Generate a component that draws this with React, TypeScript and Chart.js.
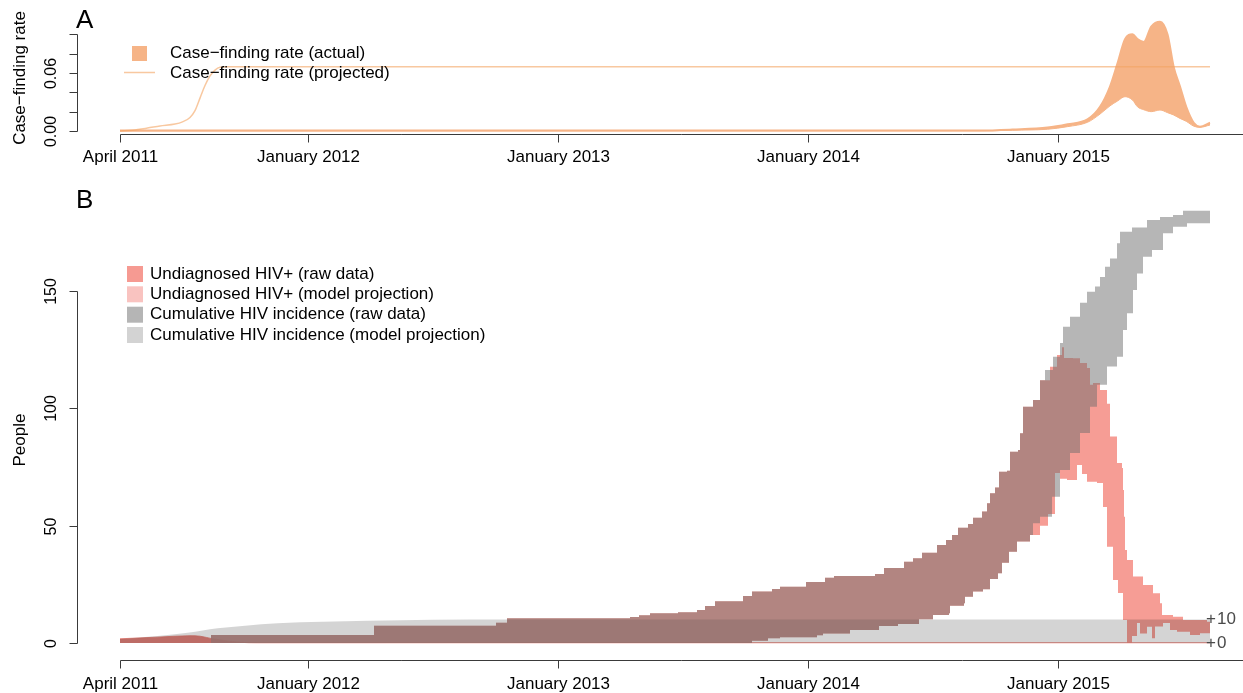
import { useEffect, useRef } from "react";
import { Chart, registerables } from "chart.js";

Chart.register(...registerables);

const WIDTH = 1243;
const HEIGHT = 693;
const FONT_FAMILY = '"Liberation Sans", Arial, Helvetica, sans-serif';

// Shared time axis (decimal years)
const timeStart = 2011.25;
const timeEnd = 2015.742;
const timeTicks = [2011.25, 2012, 2013, 2014, 2015];
const timeTickLabels = ["April 2011", "January 2012", "January 2013", "January 2014", "January 2015"];

// Panel A: case-finding rate
const rateTicks = [0, 0.02, 0.04, 0.06, 0.08, 0.1];
const rateTickLabels = ["0.00", "", "", "0.06", "", ""];

const rateProjected: [number, number][] = [
  [2011.25, 0], [2011.3, 0.0008], [2011.36, 0.003], [2011.41, 0.0052], [2011.47, 0.0072],
  [2011.5, 0.0095], [2011.53, 0.014], [2011.55, 0.021], [2011.57, 0.034], [2011.59, 0.047],
  [2011.61, 0.057], [2011.63, 0.063], [2011.65, 0.066], [2011.68, 0.0665], [2015.61, 0.0665],
];

const rateActualTimes = [
  2011.25, 2014.69, 2014.82, 2014.96, 2015.04, 2015.12, 2015.17, 2015.21, 2015.24, 2015.27, 2015.3,
  2015.32, 2015.345, 2015.375, 2015.41, 2015.44, 2015.465, 2015.49, 2015.515, 2015.545, 2015.57, 2015.61,
];
const rateActualHigh = [
  0.0004, 0.0005, 0.0015, 0.0035, 0.007, 0.012, 0.025, 0.046, 0.07, 0.095, 0.1,
  0.095, 0.092, 0.108, 0.113, 0.1, 0.066, 0.046, 0.025, 0.0085, 0.0045, 0.0086,
];
const rateActualLow = [
  0, 0.0001, 0.0008, 0.0018, 0.0045, 0.009, 0.0175, 0.026, 0.031, 0.0355, 0.032,
  0.025, 0.022, 0.02, 0.0217, 0.019, 0.0165, 0.013, 0.01, 0.005, 0.0038, 0.0062,
];

// Panel B: people
const peopleTicks = [0, 50, 100, 150];
const peopleRightTicks = [0, 10];

const incidenceProjection: [number, number][] = [
  [2011.25, 1.7], [2011.4, 3.0], [2011.52, 4.4], [2011.64, 6.3], [2011.75, 7.4], [2011.88, 8.4],
  [2011.97, 8.8], [2012.24, 9.5], [2012.5, 9.9], [2012.8, 10], [2015.61, 10],
];

const undiagnosedProjection: [number, number][] = [
  [2011.25, 1.8], [2011.4, 2.5], [2011.53, 3.1], [2011.57, 2.9], [2011.62, 1.8], [2011.67, 1.0],
  [2011.73, 0.3], [2011.8, 0.08], [2015.61, 0.08],
];

// Raw-data bands: identical for both measures until diagnoses begin
const rawUpperShared: [number, number][] = [
  [2011.614, 3.4], [2012.266, 7.4], [2012.754, 8.6], [2012.798, 10.6], [2013.29, 11.1], [2013.326, 11.8],
  [2013.37, 12.7], [2013.482, 13.1], [2013.558, 14.1], [2013.59, 15.8], [2013.63, 17.8], [2013.742, 20.0],
  [2013.778, 21.9], [2013.858, 23.0], [2013.89, 24.0], [2013.994, 26.0], [2014.07, 27.8], [2014.106, 28.5],
  [2014.27, 29.4], [2014.306, 32.0], [2014.386, 34.6], [2014.422, 36.1], [2014.458, 38.5], [2014.518, 41.8],
  [2014.554, 43.9], [2014.578, 46.0], [2014.602, 49.1], [2014.642, 50.7], [2014.662, 53.4], [2014.698, 56.0],
  [2014.718, 59.5], [2014.73, 63.8], [2014.75, 66.3], [2014.766, 73.0], [2014.798, 73.4], [2014.81, 81.5],
  [2014.842, 82.2], [2014.85, 89.4], [2014.862, 100.7], [2014.902, 103.5],
];
const rawLowerShared: [number, number][] = [
  [2011.614, 0], [2013.778, 1.0], [2013.842, 2.0], [2013.89, 2.4], [2014.038, 3.3], [2014.062, 4.1],
  [2014.17, 5.5], [2014.286, 7.2], [2014.362, 8.1], [2014.446, 10.1], [2014.502, 11.9], [2014.566, 12.7],
  [2014.57, 15.9], [2014.626, 16.9], [2014.63, 19.7], [2014.662, 21.9], [2014.702, 22.9], [2014.73, 27.3],
  [2014.762, 29.7], [2014.778, 34.2], [2014.806, 38.9], [2014.838, 43.2], [2014.89, 46.0],
];

const incidenceRawUpperTail: [number, number][] = [
  [2014.93, 112], [2014.95, 116.3], [2014.982, 122], [2015.01, 127.8], [2015.022, 134.8], [2015.05, 139],
  [2015.09, 145], [2015.118, 149.7], [2015.15, 151.9], [2015.17, 156], [2015.19, 160.3], [2015.21, 163.9],
  [2015.238, 170.3], [2015.25, 175.3], [2015.298, 177.1], [2015.358, 180.3], [2015.41, 181.5],
  [2015.462, 182.4], [2015.502, 184.2], [2015.61, 184.5],
];
const incidenceRawLowerTail: [number, number][] = [
  [2014.902, 51], [2014.93, 53.8], [2014.978, 62.3], [2015.01, 73.7], [2015.05, 81], [2015.09, 89.5],
  [2015.13, 100.7], [2015.158, 110], [2015.198, 117.8], [2015.238, 122], [2015.262, 133.4], [2015.278, 140.5],
  [2015.302, 150.4], [2015.318, 157.5], [2015.342, 164.6], [2015.378, 167.5], [2015.422, 174.6],
  [2015.462, 177.4], [2015.518, 178.9], [2015.61, 178.9],
];

const undiagnosedRawUpperTail: [number, number][] = [
  [2014.93, 112], [2014.97, 117.7], [2014.998, 122.7], [2015.018, 126], [2015.026, 121.5], [2015.062, 121.3],
  [2015.09, 119.3], [2015.118, 117.2], [2015.13, 110], [2015.142, 110.8], [2015.17, 107.8], [2015.198, 102],
  [2015.21, 88], [2015.238, 76.7], [2015.258, 74.6], [2015.262, 65.2], [2015.266, 53.8], [2015.27, 39.6],
  [2015.278, 35.4], [2015.302, 28.3], [2015.342, 24.7], [2015.382, 21.2], [2015.41, 16.9], [2015.418, 11.9],
  [2015.462, 11.2], [2015.502, 9.8], [2015.598, 9.1], [2015.61, 6.9],
];
const undiagnosedRawLowerTail: [number, number][] = [
  [2014.93, 50], [2014.962, 55], [2014.99, 72.4], [2015.01, 70], [2015.038, 69.5], [2015.078, 75.9],
  [2015.098, 72], [2015.118, 68.7], [2015.158, 68.2], [2015.182, 58], [2015.198, 41], [2015.222, 26.8],
  [2015.242, 21.3], [2015.262, 9.8], [2015.278, 0], [2015.298, 3], [2015.318, 8.5], [2015.33, 4],
  [2015.358, 6.9], [2015.378, 2], [2015.39, 7], [2015.422, 8.5], [2015.45, 5.5], [2015.478, 4.8],
  [2015.53, 3.4], [2015.57, 4.2], [2015.61, 4.8],
];

const legendALabels = ["Case\u2212finding rate (actual)", "Case\u2212finding rate (projected)"];
const legendBLabels = [
  "Undiagnosed HIV+ (raw data)",
  "Undiagnosed HIV+ (model projection)",
  "Cumulative HIV incidence (raw data)",
  "Cumulative HIV incidence (model projection)",
];
const legendBColors = ["rgb(246,154,146)", "rgb(249,195,192)", "rgb(181,181,181)", "rgb(211,211,211)"];

const ORANGE_FILL = "rgb(246,180,135)";
const ORANGE_LINE = "rgba(244,164,96,0.6)";
const AXIS_COLOR = "#3a3a3a";

const toPoints = (pairs: [number, number][]) => pairs.map(([x, y]) => ({ x, y }));
const zipPoints = (xs: number[], ys: number[]) => xs.map((x, i) => ({ x, y: ys[i] }));

function strokeLine(ctx: CanvasRenderingContext2D, x1: number, y1: number, x2: number, y2: number) {
  ctx.beginPath();
  ctx.moveTo(x1, y1);
  ctx.lineTo(x2, y2);
  ctx.stroke();
}

function rotatedText(ctx: CanvasRenderingContext2D, text: string, x: number, y: number) {
  ctx.save();
  ctx.translate(x, y);
  ctx.rotate(-Math.PI / 2);
  ctx.textAlign = "center";
  ctx.textBaseline = "middle";
  ctx.fillText(text, 0, 0);
  ctx.restore();
}

function drawTimeAxis(ctx: CanvasRenderingContext2D, xs: any, axisY: number, labelY: number) {
  ctx.strokeStyle = AXIS_COLOR;
  ctx.lineWidth = 1;
  const x0 = Math.round(xs.getPixelForValue(timeTicks[0])) + 0.5;
  strokeLine(ctx, x0, axisY, WIDTH, axisY);
  ctx.fillStyle = "#000";
  ctx.font = `17px ${FONT_FAMILY}`;
  ctx.textAlign = "center";
  ctx.textBaseline = "middle";
  timeTicks.forEach((t, i) => {
    const px = Math.round(xs.getPixelForValue(t)) + 0.5;
    strokeLine(ctx, px, axisY, px, axisY + 8);
    ctx.fillText(timeTickLabels[i], px, labelY);
  });
}

function drawValueAxis(ctx: CanvasRenderingContext2D, ys: any, ticks: number[], labels: string[]) {
  const axisX = 77.5;
  ctx.strokeStyle = AXIS_COLOR;
  ctx.lineWidth = 1;
  const top = Math.round(ys.getPixelForValue(ticks[ticks.length - 1])) + 0.5;
  const bottom = Math.round(ys.getPixelForValue(ticks[0])) + 0.5;
  strokeLine(ctx, axisX, top, axisX, bottom);
  ctx.fillStyle = "#000";
  ctx.font = `16px ${FONT_FAMILY}`;
  ticks.forEach((v, i) => {
    const py = Math.round(ys.getPixelForValue(v)) + 0.5;
    strokeLine(ctx, axisX - 8, py, axisX, py);
    if (labels[i]) rotatedText(ctx, labels[i], 52, py);
  });
}

const panelADecor = {
  id: "panelADecor",
  afterDraw(chart: any) {
    const { ctx } = chart;
    const xs = chart.scales.x;
    const ys = chart.scales.y;
    ctx.save();
    drawTimeAxis(ctx, xs, 134.5, 157);
    drawValueAxis(ctx, ys, rateTicks, rateTickLabels);

    ctx.fillStyle = "#000";
    ctx.font = `17px ${FONT_FAMILY}`;
    rotatedText(ctx, "Case\u2212finding rate", 20, 78);

    ctx.font = `26px ${FONT_FAMILY}`;
    ctx.textAlign = "left";
    ctx.textBaseline = "middle";
    ctx.fillText("A", 76, 21);

    // legend
    ctx.fillStyle = ORANGE_FILL;
    ctx.fillRect(132, 46, 15, 15);
    ctx.strokeStyle = ORANGE_LINE;
    ctx.lineWidth = 1.5;
    strokeLine(ctx, 124, 72.5, 155, 72.5);
    ctx.fillStyle = "#000";
    ctx.font = `17px ${FONT_FAMILY}`;
    ctx.textAlign = "left";
    ctx.fillText(legendALabels[0], 170, 53);
    ctx.fillText(legendALabels[1], 170, 73);
    ctx.restore();
  },
};

const panelBDecor = {
  id: "panelBDecor",
  afterDraw(chart: any) {
    const { ctx } = chart;
    const xs = chart.scales.x;
    const ys = chart.scales.y;
    ctx.save();
    drawTimeAxis(ctx, xs, 660.5, 684);
    drawValueAxis(ctx, ys, peopleTicks, peopleTicks.map(String));

    // right-hand reference marks
    ctx.fillStyle = "#4a4a4a";
    ctx.font = `17px ${FONT_FAMILY}`;
    ctx.textBaseline = "middle";
    peopleRightTicks.forEach((v) => {
      const py = ys.getPixelForValue(v);
      ctx.textAlign = "center";
      ctx.fillText("+", 1211, py);
      ctx.textAlign = "left";
      ctx.fillText(String(v), 1217, py);
    });

    ctx.fillStyle = "#000";
    rotatedText(ctx, "People", 20, 440);

    ctx.font = `26px ${FONT_FAMILY}`;
    ctx.textAlign = "left";
    ctx.textBaseline = "middle";
    ctx.fillText("B", 76, 201);

    // legend
    ctx.font = `17px ${FONT_FAMILY}`;
    const rows = [274, 294.3, 314.7, 335];
    legendBLabels.forEach((label, i) => {
      ctx.fillStyle = legendBColors[i];
      ctx.fillRect(127, rows[i] - 8, 16, 16);
      ctx.fillStyle = "#000";
      ctx.fillText(label, 150, rows[i]);
    });
    ctx.restore();
  },
};

function panelAConfig(): any {
  return {
    type: "line",
    data: {
      datasets: [
        {
          label: legendALabels[1],
          data: toPoints(rateProjected),
          borderColor: ORANGE_LINE,
          borderWidth: 1.5,
          fill: false,
          cubicInterpolationMode: "monotone",
          order: 0,
          clip: false,
        },
        {
          label: legendALabels[0],
          data: zipPoints(rateActualTimes, rateActualHigh),
          borderColor: ORANGE_FILL,
          backgroundColor: ORANGE_FILL,
          borderWidth: 2,
          fill: 2,
          cubicInterpolationMode: "monotone",
          order: 1,
          clip: false,
        },
        {
          label: "actual (lower)",
          data: zipPoints(rateActualTimes, rateActualLow),
          borderColor: ORANGE_FILL,
          borderWidth: 1,
          fill: false,
          cubicInterpolationMode: "monotone",
          order: 2,
          clip: false,
        },
      ],
    },
    options: {
      responsive: false,
      animation: false,
      devicePixelRatio: 1,
      events: [],
      layout: { padding: { left: 120, right: 0, top: 15, bottom: HEIGHT - 131 } },
      scales: {
        x: { type: "linear", min: timeStart, max: timeEnd, display: false },
        y: { type: "linear", min: 0, max: 0.12, display: false },
      },
      elements: { point: { radius: 0 } },
      plugins: { legend: { display: false }, tooltip: { enabled: false } },
    },
    plugins: [panelADecor],
  };
}

function panelBConfig(): any {
  const band = { borderWidth: 0, pointRadius: 0, stepped: true };
  return {
    type: "line",
    data: {
      datasets: [
        {
          ...band,
          label: legendBLabels[2],
          data: toPoints([...rawUpperShared, ...incidenceRawUpperTail]),
          backgroundColor: "rgba(110,110,110,0.5)",
          fill: 1,
          order: 1,
        },
        {
          ...band,
          label: "incidence raw (lower)",
          data: toPoints([...rawLowerShared, ...incidenceRawLowerTail]),
          fill: false,
          order: 1,
        },
        {
          label: legendBLabels[3],
          data: toPoints(incidenceProjection),
          backgroundColor: "rgba(0,0,0,0.17)",
          borderWidth: 0,
          fill: "origin",
          cubicInterpolationMode: "monotone",
          order: 2,
        },
        {
          ...band,
          label: legendBLabels[0],
          data: toPoints([...rawUpperShared, ...undiagnosedRawUpperTail]),
          backgroundColor: "rgba(244,140,130,0.85)",
          fill: 4,
          order: 3,
        },
        {
          ...band,
          label: "undiagnosed raw (lower)",
          data: toPoints([...rawLowerShared, ...undiagnosedRawLowerTail]),
          fill: false,
          order: 3,
        },
        {
          label: legendBLabels[1],
          data: toPoints(undiagnosedProjection),
          backgroundColor: "rgba(215,75,65,0.7)",
          borderColor: "rgba(230,120,110,0.8)",
          borderWidth: 1,
          fill: "origin",
          cubicInterpolationMode: "monotone",
          order: 4,
          clip: false,
        },
      ],
    },
    options: {
      responsive: false,
      animation: false,
      devicePixelRatio: 1,
      events: [],
      layout: { padding: { left: 120, right: 0, top: 185.4, bottom: HEIGHT - 643 } },
      scales: {
        x: { type: "linear", min: timeStart, max: timeEnd, display: false },
        y: { type: "linear", min: 0, max: 195, display: false },
      },
      elements: { point: { radius: 0 } },
      plugins: { legend: { display: false }, tooltip: { enabled: false } },
    },
    plugins: [panelBDecor],
  };
}

export default function App() {
  const refA = useRef<HTMLCanvasElement>(null);
  const refB = useRef<HTMLCanvasElement>(null);

  useEffect(() => {
    const chartA = new Chart(refA.current as HTMLCanvasElement, panelAConfig());
    const chartB = new Chart(refB.current as HTMLCanvasElement, panelBConfig());
    return () => {
      chartA.destroy();
      chartB.destroy();
    };
  }, []);

  const canvasStyle = { position: "absolute" as const, left: 0, top: 0 };
  return (
    <div style={{ position: "absolute", left: 0, top: 0, width: WIDTH, height: HEIGHT, background: "#fff" }}>
      <canvas ref={refA} width={WIDTH} height={HEIGHT} style={canvasStyle} />
      <canvas ref={refB} width={WIDTH} height={HEIGHT} style={canvasStyle} />
    </div>
  );
}
